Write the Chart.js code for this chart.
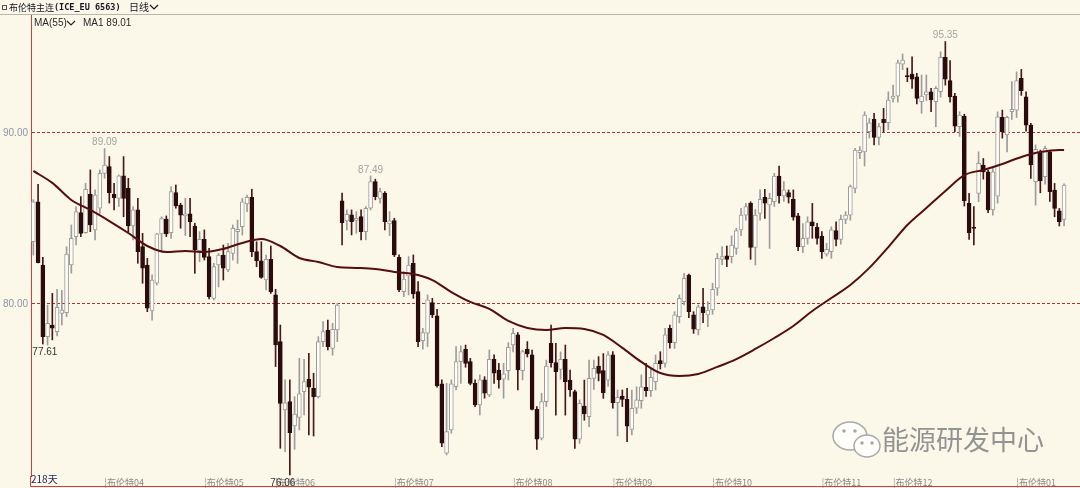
<!DOCTYPE html>
<html>
<head>
<meta charset="utf-8">
<script src="https://cdn.jsdelivr.net/npm/chart.js@4.4.1/dist/chart.umd.min.js"></script>
<style>
  html, body { margin: 0; padding: 0; background: #fcf8e9; }
  #wrap { width: 1080px; height: 488px; position: relative; }
</style>
</head>
<body>
<div id="wrap"><canvas id="kline"></canvas></div>
<script>
// 布伦特主连 daily bars, 218 days (open / high / low / close)
const opens = [
  83.64, 85.98, 82.28, 78.09, 78.77, 78.38, 79.45, 79.49, 82.28, 83.94,
  85.34, 84.17, 86.41, 84.33, 85.60, 87.64, 88.03, 86.41, 86.18, 87.49,
  86.76, 84.56, 85.50, 83.35, 82.28, 79.60, 81.21, 84.10, 84.97, 84.17,
  86.51, 85.79, 85.15, 85.27, 84.56, 83.12, 83.78, 82.77, 80.33, 82.28,
  82.86, 81.99, 82.96, 84.23, 84.52, 85.85, 86.24, 83.06, 82.53, 81.40,
  82.61, 80.53, 77.80, 73.80, 74.29, 72.87, 73.37, 74.87, 75.60, 75.07,
  74.58, 77.80, 78.48, 77.40, 78.48, 86.03, 84.86, 85.21, 84.88, 85.11,
  84.23, 85.60, 87.16, 86.18, 86.48, 84.68, 84.88, 82.73, 80.72, 81.64,
  82.38, 80.72, 77.86, 78.29, 80.08, 79.30, 75.33, 71.27, 72.63, 75.17,
  76.63, 77.35, 76.63, 75.36, 74.10, 75.56, 74.68, 76.77, 76.14, 75.60,
  76.10, 77.60, 78.19, 76.10, 77.35, 77.02, 73.84, 72.15, 74.29, 77.70,
  76.57, 76.18, 76.76, 75.55, 74.87, 72.09, 74.03, 73.41, 75.65, 76.37,
  76.10, 75.55, 77.02, 74.23, 74.62, 74.42, 72.67, 73.90, 74.35, 75.12,
  74.93, 75.46, 76.69, 76.53, 78.58, 77.74, 79.26, 80.14, 81.69, 79.36,
  78.48, 79.84, 79.36, 79.65, 80.92, 82.61, 82.81, 82.77, 83.25, 84.33,
  85.20, 85.89, 83.31, 85.30, 86.24, 85.79, 85.98, 87.48, 86.32, 86.51,
  86.12, 85.15, 83.35, 83.84, 84.81, 84.48, 83.97, 82.92, 83.06, 84.29,
  83.78, 84.95, 85.20, 86.76, 88.85, 88.90, 90.07, 90.80, 89.74, 90.80,
  90.60, 92.02, 92.16, 94.03, 93.36, 93.45, 93.29, 91.83, 92.22, 92.41,
  91.83, 92.41, 94.42, 93.06, 92.16, 90.37, 90.99, 85.88, 84.50, 86.47,
  88.12, 87.73, 85.50, 86.31, 90.91, 89.88, 91.24, 91.34, 93.20, 92.12,
  90.46, 87.15, 88.85, 87.44, 88.90, 86.66, 85.45, 84.95
];
const highs = [
  86.10, 87.00, 82.73, 79.94, 80.62, 80.86, 80.80, 83.35, 84.62, 85.70,
  86.28, 87.06, 87.84, 86.67, 87.84, 89.09, 88.62, 87.06, 87.55, 88.62,
  87.35, 85.70, 86.18, 84.13, 82.67, 81.70, 84.13, 85.10, 85.15, 86.86,
  86.96, 85.89, 86.18, 86.18, 84.72, 84.23, 84.33, 83.25, 82.38, 82.96,
  83.45, 83.55, 84.62, 84.91, 86.18, 86.37, 86.71, 83.64, 83.64, 82.86,
  83.39, 80.86, 78.77, 75.56, 75.56, 74.58, 76.82, 76.76, 77.11, 75.95,
  78.09, 78.97, 79.06, 78.87, 80.04, 86.48, 85.50, 85.50, 85.40, 85.50,
  85.70, 87.49, 87.30, 86.77, 86.57, 85.40, 85.01, 82.87, 81.90, 82.77,
  82.87, 81.31, 78.58, 80.53, 80.33, 79.69, 75.56, 75.36, 75.56, 77.51,
  77.55, 77.60, 76.82, 75.56, 75.85, 75.75, 77.31, 77.02, 76.53, 76.53,
  77.74, 78.58, 78.33, 77.31, 77.80, 77.31, 74.00, 74.78, 76.72, 78.77,
  77.70, 77.20, 77.60, 76.14, 74.97, 74.39, 75.55, 76.72, 76.72, 76.92,
  77.10, 77.21, 77.21, 74.97, 74.97, 75.06, 74.97, 75.16, 75.85, 76.53,
  76.30, 77.02, 77.21, 78.58, 78.77, 79.55, 80.53, 81.79, 81.75, 79.55,
  79.94, 80.92, 80.14, 81.21, 82.96, 83.35, 83.39, 83.98, 84.43, 85.60,
  85.89, 85.98, 85.53, 86.67, 86.71, 86.47, 87.64, 88.07, 87.16, 86.67,
  86.67, 85.30, 84.70, 85.10, 85.88, 84.72, 84.23, 83.55, 84.52, 84.81,
  85.20, 85.40, 86.96, 89.10, 89.20, 91.24, 90.85, 91.15, 90.56, 91.44,
  92.41, 92.80, 94.27, 94.62, 93.80, 94.46, 93.49, 93.39, 93.39, 92.61,
  92.71, 94.75, 95.35, 94.23, 92.32, 91.24, 91.10, 86.47, 85.70, 88.90,
  88.51, 87.83, 87.93, 91.24, 91.34, 90.99, 93.00, 93.58, 93.72, 92.41,
  90.56, 89.30, 89.00, 89.24, 88.95, 87.05, 85.59, 87.02
];
const lows = [
  82.86, 82.40, 77.66, 77.60, 77.90, 78.13, 78.77, 79.26, 81.80, 83.45,
  83.94, 84.13, 84.23, 83.74, 85.30, 87.35, 85.90, 85.50, 85.70, 85.10,
  84.23, 83.74, 82.38, 81.21, 79.55, 79.06, 81.11, 83.16, 83.94, 83.84,
  85.60, 84.43, 84.00, 83.94, 81.79, 82.47, 82.57, 80.30, 80.23, 81.00,
  81.40, 81.89, 82.57, 82.38, 84.03, 85.40, 82.77, 82.18, 81.50, 80.82,
  80.62, 76.34, 71.56, 71.36, 70.00, 71.50, 72.63, 73.51, 72.34, 72.28,
  74.50, 77.50, 77.31, 77.00, 77.80, 83.45, 84.33, 84.04, 84.14, 83.75,
  83.75, 85.50, 86.09, 85.90, 84.33, 84.00, 82.77, 80.72, 80.43, 80.53,
  80.33, 77.51, 77.35, 77.51, 79.20, 75.13, 71.66, 71.17, 72.44, 74.97,
  75.36, 76.30, 75.27, 74.00, 73.51, 74.49, 74.58, 75.36, 75.07, 74.49,
  75.56, 77.20, 74.97, 75.56, 76.90, 73.80, 71.50, 72.05, 74.00, 76.30,
  73.50, 75.60, 73.50, 74.60, 71.56, 71.85, 73.20, 72.83, 75.00, 75.50,
  74.48, 75.20, 73.90, 72.28, 74.00, 71.95, 72.34, 73.60, 73.90, 74.60,
  74.60, 74.97, 76.20, 76.30, 77.41, 77.40, 78.90, 79.94, 79.20, 78.28,
  78.19, 78.90, 78.67, 79.40, 80.50, 82.30, 82.18, 82.40, 82.90, 84.00,
  84.90, 82.61, 82.28, 84.90, 85.01, 83.25, 85.70, 85.90, 86.00, 85.90,
  84.90, 83.12, 83.00, 83.50, 83.84, 83.50, 82.67, 82.80, 82.67, 83.40,
  83.50, 84.70, 84.90, 86.50, 88.50, 88.07, 89.70, 89.30, 89.30, 90.07,
  90.20, 91.80, 91.80, 93.70, 93.00, 92.60, 91.70, 91.15, 91.90, 91.24,
  90.37, 92.10, 92.80, 91.80, 90.07, 89.80, 85.73, 83.78, 83.45, 85.98,
  87.30, 85.34, 85.20, 85.90, 89.70, 88.90, 90.80, 90.90, 92.20, 90.10,
  87.35, 85.78, 86.50, 87.00, 86.00, 85.10, 84.56, 84.56
];
const closes = [
  85.98, 82.42, 78.09, 78.87, 78.58, 79.80, 79.65, 82.92, 83.84, 85.40,
  84.13, 86.71, 84.62, 86.37, 87.64, 88.13, 86.51, 86.22, 87.49, 86.18,
  84.56, 85.50, 83.06, 82.09, 79.75, 81.40, 84.10, 85.00, 84.09, 86.57,
  85.73, 85.20, 85.27, 84.81, 83.16, 83.78, 82.73, 80.43, 82.18, 82.86,
  82.09, 83.06, 84.43, 84.37, 85.98, 86.24, 83.06, 82.53, 81.56, 82.61,
  80.72, 77.60, 74.19, 74.22, 72.48, 73.56, 74.74, 75.46, 75.13, 74.58,
  77.80, 78.38, 77.50, 78.52, 79.94, 84.76, 85.25, 84.82, 85.01, 84.23,
  85.60, 87.16, 86.28, 86.57, 84.82, 84.86, 82.87, 80.82, 81.45, 82.28,
  80.59, 77.80, 78.33, 80.24, 79.36, 75.21, 71.86, 72.54, 75.33, 76.63,
  77.22, 76.53, 75.36, 74.10, 75.56, 74.78, 76.77, 75.95, 75.56, 75.91,
  77.47, 78.29, 76.14, 77.22, 77.08, 73.84, 72.09, 74.29, 76.37, 76.57,
  76.04, 76.76, 75.46, 74.97, 72.09, 74.19, 73.57, 75.65, 76.24, 75.94,
  74.81, 77.02, 74.23, 74.54, 74.42, 72.86, 73.90, 74.39, 75.16, 74.93,
  75.71, 76.53, 76.49, 78.19, 77.74, 79.36, 80.33, 81.50, 79.55, 78.52,
  79.84, 79.49, 79.65, 80.86, 82.67, 82.77, 82.61, 83.45, 84.29, 85.20,
  85.69, 83.31, 85.20, 86.12, 85.89, 86.18, 87.48, 86.32, 86.67, 86.24,
  85.07, 83.35, 83.84, 84.81, 84.56, 83.84, 83.06, 83.20, 84.33, 83.78,
  84.95, 85.20, 86.86, 89.00, 89.00, 91.05, 90.60, 89.74, 90.37, 90.60,
  91.93, 92.16, 94.11, 94.27, 93.30, 93.14, 92.02, 92.16, 92.41, 91.93,
  92.61, 94.42, 93.14, 92.12, 90.40, 91.05, 86.04, 84.17, 84.42, 88.22,
  87.73, 85.50, 87.73, 90.95, 90.07, 90.91, 91.38, 93.06, 92.47, 90.46,
  88.13, 89.04, 87.21, 89.10, 86.57, 85.59, 84.81, 86.96
];

// MA(55) every 4th bar
const maIdx = [
  0, 4, 8, 12, 16, 20, 24, 28, 32, 36, 40, 44, 48, 52, 56, 60, 64, 68, 72, 76,
  80, 84, 88, 92, 96, 100, 104, 108, 112, 116, 120, 124, 128, 132, 136, 140,
  144, 148, 152, 156, 160, 164, 168, 172, 176, 180, 184, 188, 192, 196, 200,
  204, 208, 212, 216, 217
];
const maVals = [
  87.78, 87.08, 86.08, 85.50, 84.85, 84.15, 83.39, 83.04, 83.10, 83.04,
  83.22, 83.57, 83.80, 83.39, 82.69, 82.46, 82.16, 82.11, 82.05, 81.87,
  81.75, 81.40, 80.70, 80.12, 79.71, 79.01, 78.60, 78.48, 78.60, 78.54,
  78.19, 77.43, 76.61, 75.96, 75.79, 75.91, 76.32, 76.78, 77.37, 78.01,
  78.71, 79.59, 80.35, 81.11, 82.11, 83.33, 84.62, 85.61, 86.61, 87.54,
  87.84, 88.19, 88.60, 88.89, 89.01, 89.01
];

// contract roll marks along the bottom
const monthIdx = [15, 36, 51, 76, 101, 122, 143, 166, 181, 207];
const monthLabels = ['布伦特04', '布伦特05', '布伦特06', '布伦特07', '布伦特08',
                     '布伦特09', '布伦特10', '布伦特11', '布伦特12', '布伦特01'];
const priceTicks = [80, 90];

// high / low marks printed by the terminal
const markIdx = [15, 71, 192, 2, 54];
const markText = ['89.09', '87.49', '95.35', '77.61', '76.06'];
const markSide = ['high', 'high', 'high', 'low', 'low'];

const UP_FILL = '#fffdf4', UP_LINE = '#9c9c9c';
const DOWN_FILL = '#2b0b0b', DOWN_WICK = '#4a1818';
const FRAME = '#d23c3c';
const isUp = i => closes[i] >= opens[i];

const decor = {
  id: 'decor',
  beforeDraw(chart) {
    const c = chart.ctx;
    c.save();
    c.fillStyle = '#fcf8e9';
    c.fillRect(0, 0, chart.width, chart.height);
    c.restore();
  },
  afterDraw(chart) {
    const c = chart.ctx, xs = chart.scales.x, ys = chart.scales.y;
    const area = chart.chartArea;
    c.save();
    // frame below the month labels
    c.strokeStyle = FRAME;
    c.lineWidth = 1;
    c.beginPath();
    c.moveTo(area.left - 0.5, area.bottom); c.lineTo(area.left - 0.5, chart.height - 1.5);
    c.lineTo(chart.width, chart.height - 1.5);
    c.stroke();

    // title bar
    c.strokeStyle = '#b9b5a8';
    c.beginPath(); c.moveTo(0, 14.5); c.lineTo(chart.width, 14.5); c.stroke();
    c.strokeStyle = '#555';
    c.strokeRect(2.5, 5.5, 4, 4);
    c.fillStyle = '#141424';
    c.textBaseline = 'middle';
    let tx = 9;
    c.font = '9px "Noto Sans CJK SC"';
    c.fillText('布伦特主连', tx, 7.5);
    tx += c.measureText('布伦特主连').width;
    c.font = 'bold 8.5px "DejaVu Sans Mono"';
    c.fillText('(ICE_EU 6563)', tx, 7.5);
    c.font = '10px "Noto Sans CJK SC"';
    c.fillText('日线', 129, 7.5);
    chevron(c, 154, 7, '#141424');

    // MA legend
    c.font = '10px "Liberation Sans"';
    c.fillStyle = '#2a2a2a';
    c.fillText('MA(55)', 34, 23);
    chevron(c, 71, 23, '#2a2a2a');
    c.fillText('MA1 89.01', 83, 23);

    // day count
    c.fillStyle = '#25255c';
    c.font = '10px "Noto Sans CJK SC"';
    c.fillText('218天', 31, 479);

    // high / low marks
    c.font = '10px "Liberation Sans"';
    c.textAlign = 'center';
    markIdx.forEach((i, k) => {
      const x = xs.getPixelForValue(i);
      if (markSide[k] === 'high') {
        c.fillStyle = '#a3a3a3';
        c.fillText(markText[k], x, ys.getPixelForValue(highs[i]) - 6);
      } else {
        c.fillStyle = '#333';
        c.fillText(markText[k], x + (i > 10 ? -7 : 2), ys.getPixelForValue(lows[i]) + 8);
      }
    });

    // watermark
    c.textAlign = 'left';
    c.lineWidth = 1.5;
    c.strokeStyle = '#a8a8a8';
    c.fillStyle = '#fffefa';
    c.beginPath(); c.ellipse(850, 436, 17, 14, 0, 0, Math.PI * 2); c.fill(); c.stroke();
    c.beginPath(); c.ellipse(867, 446, 13, 11, 0, 0, Math.PI * 2); c.fill(); c.stroke();
    c.fillStyle = '#a8a8a8';
    [[844, 431], [855, 431], [862, 443], [872, 443]].forEach(p => {
      c.beginPath(); c.arc(p[0], p[1], 1.8, 0, Math.PI * 2); c.fill();
    });
    c.fillStyle = '#939393';
    c.font = '27px "Noto Sans CJK SC"';
    c.fillText('能源研发中心', 882, 440);
    c.restore();
  }
};

function chevron(c, x, y, color) {
  c.save();
  c.strokeStyle = color;
  c.lineWidth = 1.2;
  c.beginPath();
  c.moveTo(x - 4, y - 2); c.lineTo(x, y + 2); c.lineTo(x + 4, y - 2);
  c.stroke();
  c.restore();
}

const days = opens.map((o, i) => i);

new Chart(document.getElementById('kline'), {
  type: 'bar',
  data: {
    datasets: [
      {
        // wicks
        data: days.map(i => ({ x: i, y: [lows[i], highs[i]] })),
        backgroundColor: ctx => isUp(ctx.dataIndex) ? UP_LINE : DOWN_WICK,
        borderWidth: 0,
        maxBarThickness: 1,
        categoryPercentage: 1,
        barPercentage: 1,
        grouped: false,
        clip: false,
        order: 3
      },
      {
        // bodies
        data: days.map(i => ({ x: i, y: [opens[i], closes[i]] })),
        backgroundColor: ctx => isUp(ctx.dataIndex) ? UP_FILL : DOWN_FILL,
        borderColor: ctx => isUp(ctx.dataIndex) ? UP_LINE : DOWN_FILL,
        borderWidth: 1,
        borderSkipped: false,
        maxBarThickness: 4,
        categoryPercentage: 1,
        barPercentage: 1,
        grouped: false,
        clip: false,
        order: 2
      },
      {
        type: 'line',
        label: 'MA(55)',
        data: maIdx.map((i, k) => ({ x: i, y: maVals[k] })),
        borderColor: '#550d0d',
        borderWidth: 2,
        pointRadius: 0,
        cubicInterpolationMode: 'monotone',
        order: 1
      }
    ]
  },
  options: {
    responsive: true,
    maintainAspectRatio: false,
    animation: false,
    layout: { padding: { top: 15, left: 0, right: 0, bottom: 0 } },
    plugins: { legend: { display: false }, tooltip: { enabled: false } },
    scales: {
      x: {
        type: 'linear',
        min: -0.49,
        max: 220.35,
        offset: false,
        grid: { display: false, drawTicks: false },
        border: { display: false },
        afterBuildTicks: s => { s.ticks = monthIdx.map(v => ({ value: v })); },
        afterFit: s => { s.height = 12; },
        ticks: {
          autoSkip: false,
          maxRotation: 0,
          align: 'start',
          padding: 1,
          color: '#8a8a8a',
          font: { size: 9, family: '"Noto Sans CJK SC"' },
          callback: v => '¦' + monthLabels[monthIdx.indexOf(v)]
        }
      },
      y: {
        position: 'left',
        min: 69.94,
        max: 96.9,
        afterBuildTicks: s => { s.ticks = priceTicks.map(v => ({ value: v })); },
        afterFit: s => { s.width = 31; },
        grid: { color: '#a8322e', lineWidth: 1, drawTicks: false },
        border: { color: FRAME, width: 1, dash: [3, 2] },
        ticks: {
          padding: 3,
          color: '#8c96a6',
          font: { size: 10, family: '"Liberation Sans"' },
          callback: v => v.toFixed(2)
        }
      }
    }
  },
  plugins: [decor]
});
</script>
</body>
</html>
